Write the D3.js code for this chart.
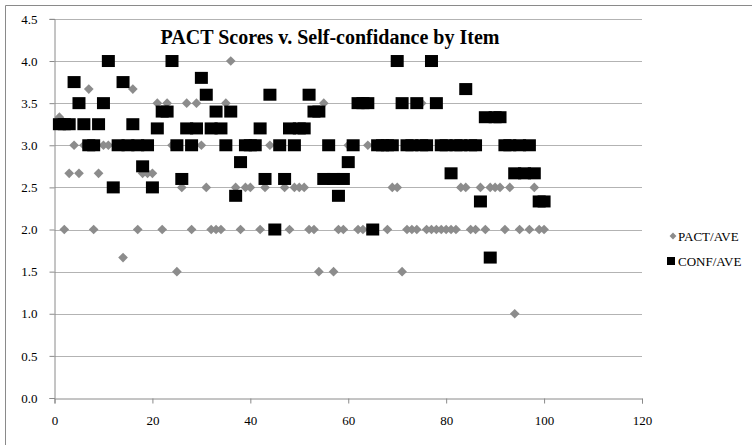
<!DOCTYPE html>
<html>
<head>
<meta charset="utf-8">
<script src="https://cdn.jsdelivr.net/npm/d3@7"></script>
<style>
  html, body { margin: 0; padding: 0; background: #fff; }
  svg text { font-family: "Liberation Serif", "Times New Roman", serif; fill: #000; }
</style>
</head>
<body>
<div id="chart"></div>
<script>
var title = 'PACT Scores v. Self-confidance by Item',
    seriesNames = ['PACT/AVE', 'CONF/AVE'],
    xTicks = [0, 20, 40, 60, 80, 100, 120],
    yTicks = [0, 0.5, 1, 1.5, 2, 2.5, 3, 3.5, 4, 4.5];

// item 1..100, one value each
var pact = [3.333, 2, 2.667, 3, 2.667, 3, 3.667, 2, 2.667, 3,
    3, 2.5, 3, 1.667, 3, 3.667, 2, 2.667, 2.667, 2.667,
    3.5, 2, 3.5, 3, 1.5, 2.5, 3.5, 2, 3.5, 3,
    2.5, 2, 2, 2, 3.5, 4, 2.5, 2, 2.5, 2.5,
    3, 2, 2.5, 3, 2, 3, 2.5, 2, 2.5, 2.5,
    2.5, 2, 2, 1.5, 3.5, 3, 1.5, 2, 2, 3,
    3, 2, 2, 3, 2, 3, 3, 2, 2.5, 2.5,
    1.5, 2, 2, 2, 3.5, 2, 2, 2, 2, 2,
    2, 2, 2.5, 2.5, 2, 2, 2.5, 2, 2.5, 2.5,
    2.5, 2, 2.5, 1, 2, 3, 2, 2.5, 2, 2];

var conf = [3.25, 3.25, 3.25, 3.75, 3.5, 3.25, 3, 3, 3.25, 3.5,
    4, 2.5, 3, 3.75, 3, 3.25, 3, 2.75, 3, 2.5,
    3.2, 3.4, 3.4, 4, 3, 2.6, 3.2, 3, 3.2, 3.8,
    3.6, 3.2, 3.4, 3.2, 3, 3.4, 2.4, 2.8, 3, 3,
    3, 3.2, 2.6, 3.6, 2, 3, 2.6, 3.2, 3, 3.2,
    3.2, 3.6, 3.4, 3.4, 2.6, 3, 2.6, 2.4, 2.6, 2.8,
    3, 3.5, 3.5, 3.5, 2, 3, 3, 3, 3, 4,
    3.5, 3, 3, 3.5, 3, 3, 4, 3.5, 3, 3,
    2.667, 3, 3, 3.667, 3, 3, 2.333, 3.333, 1.667, 3.333,
    3.333, 3, 3, 2.667, 3, 2.667, 3, 2.667, 2.333, 2.333];

var items = d3.range(1, pact.length + 1);

var width = 752, height = 445,
    plot = { left: 54.5, right: 642, top: 18.9, bottom: 398 };

var svg = d3.select('#chart').append('svg')
    .attr('width', width)
    .attr('height', height);

// chart frame
svg.append('path')
    .attr('d', 'M5.5,' + height + 'V5.5H' + width)
    .attr('fill', 'none')
    .attr('stroke', '#8a8a8a');

var x = d3.scaleLinear().domain([0, 120]).range([plot.left, plot.right]);
var y = d3.scaleLinear().domain([0, 4.5]).range([plot.bottom, plot.top]);

// gridlines
svg.append('g')
    .selectAll('line')
    .data(yTicks.filter(d => d > 0))
    .enter().append('line')
    .attr('x1', plot.left)
    .attr('x2', plot.right)
    .attr('y1', d => Math.round(y(d)) + 0.5)
    .attr('y2', d => Math.round(y(d)) + 0.5)
    .attr('stroke', '#b3b3b3')
    .attr('stroke-width', 1);

// axes
let yAxis = svg.append('g')
    .attr('transform', 'translate(' + plot.left + ',0)')
    .call(d3.axisLeft(y).tickValues(yTicks).tickSize(5).tickPadding(12).tickFormat(d3.format('.1f')));

let xAxis = svg.append('g')
    .attr('transform', 'translate(0,' + (Math.round(y(0)) + 0.5) + ')')
    .call(d3.axisBottom(x).tickValues(xTicks).tickSize(5).tickPadding(12).tickFormat(d3.format('d')));

[xAxis, yAxis].forEach(a => {
    a.select('.domain').attr('stroke', '#8a8a8a');
    a.selectAll('.tick line').attr('stroke', '#8a8a8a');
    a.selectAll('.tick text').attr('font-size', 13).attr('fill', '#000');
});

// series
let diamond = d3.symbol().type(d3.symbolDiamond2).size(60);

svg.append('g')
    .selectAll('path')
    .data(items)
    .enter().append('path')
    .attr('d', diamond)
    .attr('transform', d => 'translate(' + x(d) + ',' + y(pact[d - 1]) + ')')
    .attr('fill', '#8c8c8c');

svg.append('g')
    .selectAll('rect')
    .data(items)
    .enter().append('rect')
    .attr('x', d => x(d) - 6.5)
    .attr('y', d => y(conf[d - 1]) - 6)
    .attr('width', 13)
    .attr('height', 12)
    .attr('fill', '#000');

// title
svg.append('text')
    .attr('x', 330)
    .attr('y', 44)
    .attr('text-anchor', 'middle')
    .attr('font-size', 20)
    .attr('font-weight', 'bold')
    .text(title);

// legend
let legend = svg.append('g');
legend.append('path')
    .attr('d', d3.symbol().type(d3.symbolDiamond2).size(30))
    .attr('transform', 'translate(673,236)')
    .attr('fill', '#8c8c8c');
legend.append('rect')
    .attr('x', 667).attr('y', 257)
    .attr('width', 8).attr('height', 8)
    .attr('fill', '#000');
legend.selectAll('text')
    .data(seriesNames)
    .enter().append('text')
    .attr('x', 678)
    .attr('y', (d, i) => 241 + i * 25)
    .attr('font-size', 13)
    .text(d => d);
</script>
</body>
</html>
